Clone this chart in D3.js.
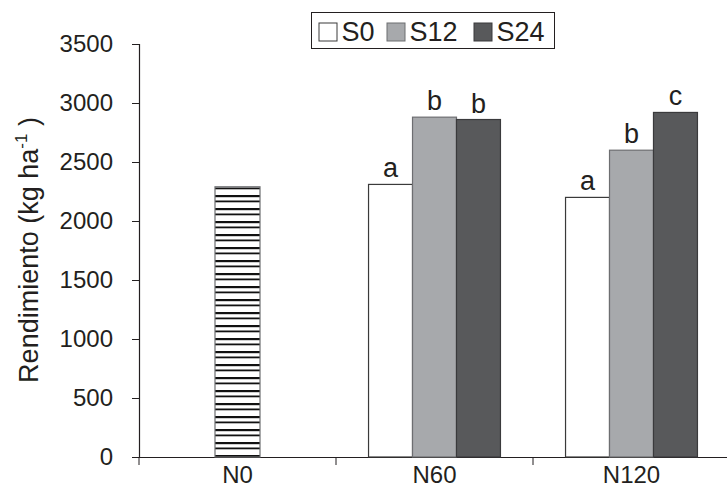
<!DOCTYPE html>
<html><head><meta charset="utf-8">
<script src="https://cdn.jsdelivr.net/npm/d3@7"></script>
<style>body{margin:0;background:#fff}svg{display:block}text{font-family:"Liberation Sans",Arial,sans-serif;fill:#231f20}</style>
</head><body>
<script>
const categories = ["N0","N60","N120"];
const series = ["S0","S12","S24"];
const controlValue = [2290];            // N0 (sin S)
const valuesS0  = [null, 2310, 2200];
const valuesS12 = [null, 2880, 2600];
const valuesS24 = [null, 2860, 2920];
const lettersS0  = [null, "a", "a"];
const lettersS12 = [null, "b", "b"];
const lettersS24 = [null, "b", "c"];
const yTicks = [0,500,1000,1500,2000,2500,3000,3500];

const W=727,H=489;
const svg=d3.select("body").append("svg").attr("width",W).attr("height",H);
const defs=svg.append("defs");
const pat=defs.append("pattern").attr("id","stripes").attr("patternUnits","userSpaceOnUse")
  .attr("width",10).attr("height",13);
pat.append("rect").attr("width",10).attr("height",13).attr("fill","#fff");
pat.append("rect").attr("y",0).attr("width",10).attr("height",2.2).attr("fill","#111");
pat.append("rect").attr("y",5.5).attr("width",10).attr("height",1.8).attr("fill","#111");

const x=d3.scaleBand().domain(categories).range([139,730]);
const y=d3.scaleLinear().domain([0,3500]).range([457,44]);
const xs=d3.scaleBand().domain(series).range([0,x.bandwidth()]).paddingOuter(0.74);

// axes
const yAx=svg.append("g").attr("transform","translate(139,0)")
  .call(d3.axisLeft(y).tickValues(yTicks).tickSize(7).tickPadding(19).tickFormat(d3.format("d")));
yAx.select(".domain").attr("stroke","#231f20").attr("stroke-width",1.2);
yAx.selectAll(".tick line").attr("stroke","#231f20");
yAx.selectAll("text").attr("font-size",24).attr("fill","#231f20").style("font-family","Liberation Sans, Arial");

const xAx=svg.append("g").attr("transform","translate(0,457)")
  .call(d3.axisBottom(x).tickSize(0).tickPadding(9));
xAx.select(".domain").attr("stroke","#231f20").attr("stroke-width",1.2);
xAx.selectAll(".tick line").remove();
xAx.selectAll("text").attr("font-size",24).attr("fill","#231f20").style("font-family","Liberation Sans, Arial");
// category boundary ticks
const bounds=categories.map(c=>x(c)).concat([x("N120")+x.bandwidth()]);
svg.append("g").selectAll("line").data(bounds).join("line")
  .attr("x1",d=>d).attr("x2",d=>d).attr("y1",457).attr("y2",465)
  .attr("stroke","#231f20").attr("stroke-width",1);

// control bar
const cw=45;
svg.append("rect").attr("x",x("N0")+x.bandwidth()/2-cw/2).attr("width",cw)
  .attr("y",y(controlValue[0])).attr("height",y(0)-y(controlValue[0]))
  .attr("fill","url(#stripes)").attr("stroke","#6d6e71").attr("stroke-width",1.2);

const fills={S0:"#ffffff",S12:"#a7a9ac",S24:"#58595b"};
const strokes={S0:"#3a3a3a",S12:"#6d6e71",S24:"#3a3a3c"};
const vals={S0:valuesS0,S12:valuesS12,S24:valuesS24};
const lets={S0:lettersS0,S12:lettersS12,S24:lettersS24};
const bars=[];
series.forEach(s=>categories.forEach((c,i)=>{ if(vals[s][i]!=null) bars.push({s,c,v:vals[s][i],l:lets[s][i]}); }));
svg.append("g").selectAll("rect").data(bars).join("rect")
  .attr("x",d=>x(d.c)+xs(d.s)).attr("width",xs.bandwidth())
  .attr("y",d=>y(d.v)).attr("height",d=>y(0)-y(d.v))
  .attr("fill",d=>fills[d.s]).attr("stroke",d=>strokes[d.s]).attr("stroke-width",1.2);
svg.append("g").selectAll("text").data(bars).join("text")
  .attr("x",d=>x(d.c)+xs(d.s)+xs.bandwidth()/2).attr("y",d=>y(d.v)-7)
  .attr("text-anchor","middle").attr("font-size",27).text(d=>d.l);

// y title
svg.append("text").attr("transform","translate(38,250) rotate(-90)").attr("text-anchor","middle")
  .attr("font-size",27)
  .html('Rendimiento (kg ha<tspan dy="-11" font-size="17">-1</tspan><tspan dy="11"> )</tspan>');

// legend
const lg=svg.append("g");
lg.append("rect").attr("x",311.5).attr("y",12.5).attr("width",243).attr("height",36)
  .attr("fill","#fff").attr("stroke","#231f20").attr("stroke-width",1);
const legX=[319,387,474];
series.forEach((s,i)=>{
  lg.append("rect").attr("x",legX[i]).attr("y",23).attr("width",18).attr("height",18)
    .attr("fill",fills[s]).attr("stroke",strokes[s]).attr("stroke-width",1);
  lg.append("text").attr("x",legX[i]+22.5).attr("y",41).attr("font-size",27).text(s);
});
</script>
</body></html>
